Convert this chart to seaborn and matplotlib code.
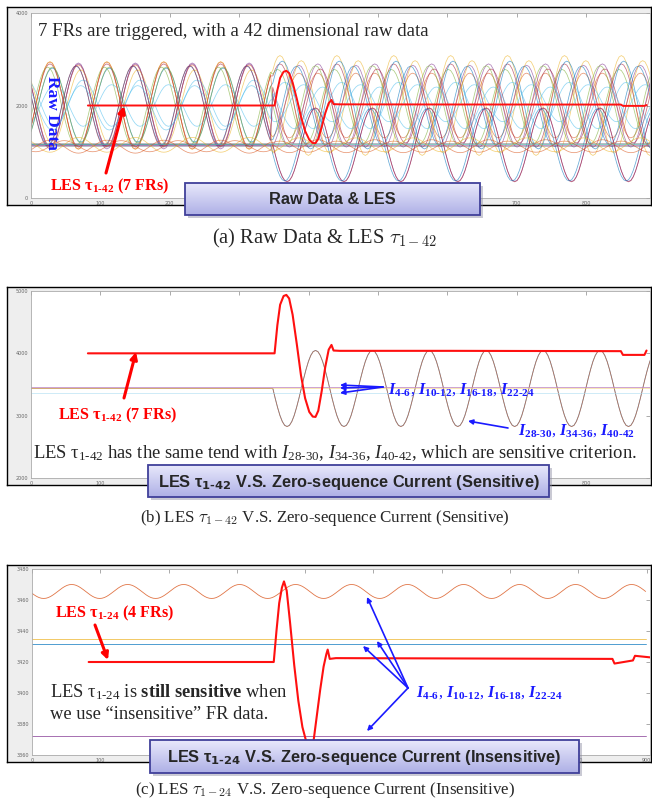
import numpy as np
import pandas as pd
import matplotlib
matplotlib.use("Agg")
import matplotlib.pyplot as plt
from matplotlib.patches import Rectangle
from matplotlib.colors import LinearSegmentedColormap
import seaborn as sns

sns.set_style("white")
plt.rcParams['font.family'] = ['Liberation Serif', 'DejaVu Serif']
plt.rcParams['mathtext.fontset'] = 'custom'
plt.rcParams['mathtext.rm'] = 'Liberation Serif'
plt.rcParams['mathtext.it'] = 'Liberation Serif:italic'
plt.rcParams['mathtext.bf'] = 'Liberation Serif:bold'
plt.rcParams['mathtext.bfit'] = 'Liberation Serif:bold:italic'

# ---- data ----
PERIOD = 82          # x-units per cycle (trough to trough)
# one cycle of the measured waveform, 24 samples, normalised
CYCLE = [0.0, 0.26, 0.5, 0.71, 0.87, 0.97, 1.0, 0.97, 0.87, 0.71, 0.5, 0.26,
         0.0, -0.26, -0.5, -0.71, -0.87, -0.97, -1.0, -0.97, -0.87, -0.71, -0.5, -0.26]
N_CYCLES = 11
FAULT = 102          # sample where the fault starts

X_TICKS = [0, 100, 200, 300, 400, 500, 600, 700, 800, 900]
A_Y_TICKS = [0, 2000, 4000]
B_Y_TICKS = [2000, 3000, 4000, 5000]
C_Y_TICKS = [3360, 3380, 3400, 3420, 3440, 3460, 3480]

# (a) raw data channels
RAW_LEVEL = [2000, 2000, 1980, 2010, 2000, 1990, 2000, 2000, 1970, 2050,
             2000, 2000, 2010, 1990, 1950, 1150, 1150, 1150,
             1190, 1170, 1160, 1150, 1130, 1110, 1150, 1120]
RAW_AMP_PRE = [950, 900, 850, 800, 450, 930, 880, 850, 800, 500,
               940, 900, 820, 870, 480, 0, 0, 0,
               0, 0, 0, 0, 0, 140, 160, 120]
RAW_AMP_POST = [1080, 900, 800, 950, 500, 880, 700, 850, 1000, 400,
                700, 900, 850, 800, 450, 790, 800, 780,
                0, 0, 0, 0, 0, 120, 150, 140]
RAW_SHIFT_PRE = [2, 2, 1, 3, 4, 14, 14, 13, 15, 16,
                 2, 14, 3, 13, 15, 18, 18, 17,
                 0, 0, 0, 0, 0, 2, 14, 8]
RAW_SHIFT_POST = [3, 3, 2, 4, 5, 11, 11, 10, 12, 13,
                  19, 19, 18, 20, 21, 18, 18, 17,
                  0, 0, 0, 0, 0, 3, 11, 19]

# (b) zero-sequence currents
ZS_B_LEVEL = [3437, 3435, 3465, 3458, 3445, 3370]
ZS_B_AMP = [610, 610, 0, 0, 0, 0]
ZS_B_SHIFT = [18, 18, 0, 0, 0, 0]

# (c) insensitive zero-sequence currents
ZS_C_LEVEL = [3465.5, 3435, 3431.5, 3372]
ZS_C_AMP = [4.5, 0, 0, 0]
ZS_C_SHIFT = [11, 0, 0, 0]

# LES curves
LES_A_X = [82, 351, 355, 359, 364, 368, 372, 377, 383, 389, 395, 401, 406, 410,
           414, 419, 424, 429, 433, 436, 445, 600, 850, 853, 884, 887]
LES_A_Y = [2000, 2000, 2330, 2595, 2730, 2750, 2700, 2500, 2150, 1760, 1450, 1260,
           1190, 1185, 1280, 1540, 1830, 2050, 2120, 2030, 2025, 2022, 2020, 1992, 1992, 2010]
LES_B_X = LES_A_X
LES_B_Y = [4000, 4000, 4450, 4780, 4920, 4937, 4880, 4620, 4150, 3650, 3280, 3060,
           2985, 2980, 3080, 3400, 3780, 4060, 4135, 4045, 4040, 4040, 4035, 3975, 3975, 4045]
LES_C_X = [83, 354, 358, 362, 366, 369, 373, 378, 384, 390, 396, 402, 408,
           412, 417, 422, 427, 431, 433, 436, 445, 850, 853, 880, 883, 905]
LES_C_Y = [3420, 3420, 3440, 3458, 3468, 3472, 3466, 3445, 3418, 3395, 3378, 3368, 3364,
           3368, 3385, 3402, 3417, 3425, 3428, 3422, 3422.5, 3422, 3419, 3421, 3424, 3423]

M_BLUE, M_ORANGE, M_YELLOW, M_PURPLE = '#0072BD', '#D95319', '#EDB120', '#7E2F8E'
M_GREEN, M_LBLUE, M_DRED, M_GRAY = '#77AC30', '#4DBEEE', '#A2142F', '#6f6f80'
RAW_COLORS = [M_YELLOW, M_DRED, M_GREEN, M_BLUE, M_LBLUE, M_PURPLE, M_ORANGE, M_BLUE,
              M_YELLOW, M_LBLUE, M_ORANGE, M_PURPLE, M_GREEN, M_DRED, M_LBLUE,
              M_PURPLE, M_DRED, M_BLUE, M_GRAY, M_GREEN, M_LBLUE, M_PURPLE, M_GRAY,
              M_ORANGE, M_YELLOW, M_ORANGE]
ZS_B_COLORS = [M_BLUE, M_ORANGE, '#e090c8', '#b48cc8', '#f2d27a', '#a8dcf2']
ZS_C_COLORS = [M_ORANGE, M_YELLOW, M_BLUE, M_PURPLE]

STEP = PERIOD / len(CYCLE)
n_samples = len(CYCLE) * N_CYCLES
sample_x = np.arange(n_samples) * STEP
before_fault = np.arange(n_samples) < FAULT


def channel(level, amp_pre, amp_post, shift_pre, shift_post):
    w_pre = np.roll(np.tile(CYCLE, N_CYCLES), shift_pre)
    w_post = np.roll(np.tile(CYCLE, N_CYCLES), shift_post)
    return level + np.where(before_fault, amp_pre * w_pre, amp_post * w_post)


def long_frame(levels, pre, post, shift_pre, shift_post):
    parts = []
    for i, vals in enumerate(zip(levels, pre, post, shift_pre, shift_post)):
        parts.append(pd.DataFrame({'x': sample_x, 'value': channel(*vals),
                                   'channel': f'ch{i:02d}'}))
    return pd.concat(parts, ignore_index=True)


df_a = long_frame(RAW_LEVEL, RAW_AMP_PRE, RAW_AMP_POST, RAW_SHIFT_PRE, RAW_SHIFT_POST)
df_b = long_frame(ZS_B_LEVEL, [0] * len(ZS_B_AMP), ZS_B_AMP, ZS_B_SHIFT, ZS_B_SHIFT)
df_c = long_frame(ZS_C_LEVEL, ZS_C_AMP, ZS_C_AMP, ZS_C_SHIFT, ZS_C_SHIFT)

# ---- layout ----
W, H = 652, 808
fig = plt.figure(figsize=(W / 100, H / 100), dpi=100)


def rect(x0, y0, x1, y1):
    return [x0 / W, 1 - y1 / H, (x1 - x0) / W, (y1 - y0) / H]


def panel(frame, inner, ylim, yticks, xmax, hidden):
    f = fig.add_axes(rect(*frame))
    f.set_facecolor('#eeeeee')
    f.set_xticks([])
    f.set_yticks([])
    for s in f.spines.values():
        s.set_color('black')
        s.set_linewidth(1.0)
    ax = fig.add_axes(rect(*inner))
    ax.set_facecolor('white')
    ax.set_xlim(0, xmax)
    ax.set_ylim(*ylim)
    ticks = [t for t in X_TICKS if t <= xmax]
    ax.set_xticks(ticks)
    # labels that sit under the title box are hidden by it anyway
    ax.set_xticklabels(['' if t in hidden else str(t) for t in ticks])
    ax.set_yticks(yticks)
    ax.tick_params(direction='in', top=True, right=True, length=3, width=0.5,
                   color='#888888', labelsize=3.5, labelcolor='#666666', pad=2)
    for lab in ax.get_xticklabels() + ax.get_yticklabels():
        lab.set_family('DejaVu Sans')
    for s in ax.spines.values():
        s.set_color('#aaaaaa')
        s.set_linewidth(0.6)
    return ax


ax_a = panel((7, 7, 651, 205), (31, 13, 650, 198), (0, 4000), A_Y_TICKS, 892,
             [300, 400, 500, 600])
ax_b = panel((7, 287, 651, 485), (31, 291, 650, 478), (2000, 5000), B_Y_TICKS, 892,
             [200, 300, 400, 500, 600, 700])
ax_c = panel((7, 565, 651, 762), (32, 569, 650, 755), (3360, 3480), C_Y_TICKS, 905,
             [200, 300, 400, 500, 600, 700])

sns.lineplot(data=df_a, x='x', y='value', hue='channel', palette=RAW_COLORS,
             lw=0.55, alpha=0.6, legend=False, estimator=None, ax=ax_a)
sns.lineplot(x=LES_A_X, y=LES_A_Y, color='#ff1010', lw=1.4, ax=ax_a)

sns.lineplot(data=df_b, x='x', y='value', hue='channel', palette=ZS_B_COLORS,
             lw=0.6, alpha=0.65, legend=False, estimator=None, ax=ax_b)
sns.lineplot(x=LES_B_X, y=LES_B_Y, color='#ff1010', lw=1.5, ax=ax_b)

sns.lineplot(data=df_c, x='x', y='value', hue='channel', palette=ZS_C_COLORS,
             lw=0.6, alpha=0.8, legend=False, estimator=None, ax=ax_c)
sns.lineplot(x=LES_C_X, y=LES_C_Y, color='#ff1010', lw=1.5, ax=ax_c)

for ax in (ax_a, ax_b, ax_c):
    ax.set_xlabel('')
    ax.set_ylabel('')

# overlay in pixel coordinates for annotations
ov = fig.add_axes([0, 0, 1, 1], zorder=10)
ov.set_xlim(0, W)
ov.set_ylim(H, 0)
ov.axis('off')
ov.patch.set_alpha(0)

RED = '#ff0000'
BLUE = '#1a1aff'
box_cmap = LinearSegmentedColormap.from_list('box', ['#e8e8fb', '#aeb0e6'])


def label_box(x0, y0, x1, y1, text):
    ov.add_patch(Rectangle((x0 + 3, y0 + 3), x1 - x0, y1 - y0, color='#8a8aa0',
                           alpha=0.45, lw=0, zorder=1))
    grad = np.linspace(0, 1, 64).reshape(-1, 1)
    ov.imshow(grad, extent=(x0, x1, y1, y0), cmap=box_cmap, aspect='auto', zorder=2)
    ov.add_patch(Rectangle((x0, y0), x1 - x0, y1 - y0, fill=False, ec='#40409a',
                           lw=1.3, zorder=3))
    ov.text((x0 + x1) / 2, (y0 + y1) / 2 + 1, text, ha='center', va='center',
            family=['Liberation Sans', 'DejaVu Sans'], weight='bold', size=11.8,
            math_fontfamily='dejavusans', zorder=4)


def arrow(x0, y0, x1, y1, color, lw, ms):
    ov.annotate('', xy=(x1, y1), xytext=(x0, y0),
                arrowprops=dict(arrowstyle='-|>', color=color, lw=lw, mutation_scale=ms,
                                shrinkA=0, shrinkB=0))


# (a)
ov.text(38, 36, '7 FRs are triggered, with a 42 dimensional raw data', size=13.6,
        va='baseline')
ov.text(52, 113, 'Raw Data', color=BLUE, weight='bold', size=12.5, rotation=-90,
        ha='center', va='center')
ov.text(50, 190, r'LES τ$_{\mathbf{1‐42}}$ (7 FRs)', color=RED, weight='bold', size=11.6,
        va='baseline')
arrow(106, 173, 124, 106, RED, 2.2, 10)
label_box(185, 183, 480, 215, 'Raw Data & LES')
ov.text(325, 243, r'(a) Raw Data & LES $\tau_{1-42}$', ha='center', va='baseline',
        size=14.8, math_fontfamily='cm')

# (b)
ov.text(58, 419, r'LES τ$_{\mathbf{1‐42}}$ (7 FRs)', color=RED, weight='bold', size=11.6,
        va='baseline')
arrow(124, 398, 136, 352, RED, 2.2, 10)
ov.text(388, 394, r'$\mathbfit{I}_{\mathbf{4‐6}}$, $\mathbfit{I}_{\mathbf{10‐12}}$, '
        r'$\mathbfit{I}_{\mathbf{16‐18}}$, $\mathbfit{I}_{\mathbf{22‐24}}$',
        color=BLUE, size=11.6, va='baseline')
for hy in (385, 388, 393):
    arrow(383, 387, 340, hy, BLUE, 1.2, 7)
ov.text(518, 435, r'$\mathbfit{I}_{\mathbf{28‐30}}$, $\mathbfit{I}_{\mathbf{34‐36}}$, '
        r'$\mathbfit{I}_{\mathbf{40‐42}}$', color=BLUE, size=11.6, va='baseline')
arrow(508, 428, 468, 421, BLUE, 1.2, 7)
ov.text(33, 458, r'LES τ$_{1‐42}$ has the same tend with $\mathit{I}_{28‐30}$, '
        r'$\mathit{I}_{34‐36}$, $\mathit{I}_{40‐42}$, which are sensitive criterion.',
        size=13.4, va='baseline')
label_box(148, 465, 549, 497, r'LES τ$_{\mathbf{1‐42}}$ V.S. Zero-sequence Current (Sensitive)')
ov.text(325, 522, r'(b) LES $\tau_{1-42}$ V.S. Zero-sequence Current (Sensitive)',
        ha='center', va='baseline', size=12.2, math_fontfamily='cm')

# (c)
ov.text(55, 617, r'LES τ$_{\mathbf{1‐24}}$ (4 FRs)', color=RED, weight='bold', size=11.6,
        va='baseline')
arrow(95, 625, 108, 660, RED, 2.2, 10)
ov.text(50, 697, r'LES τ$_{1‐24}$ is $\mathbf{still\ sensitive}$ when', size=13.3,
        va='baseline')
ov.text(50, 719, 'we use “insensitive” FR data.', size=13.3, va='baseline')
ov.text(416, 697, r'$\mathbfit{I}_{\mathbf{4‐6}}$, $\mathbfit{I}_{\mathbf{10‐12}}$, '
        r'$\mathbfit{I}_{\mathbf{16‐18}}$, $\mathbfit{I}_{\mathbf{22‐24}}$',
        color=BLUE, size=11.6, va='baseline')
for hx, hy in ((367, 597), (377, 641), (363, 646), (367, 731)):
    arrow(408, 688, hx, hy, BLUE, 1.2, 7)
label_box(150, 740, 579, 773, r'LES τ$_{\mathbf{1‐24}}$ V.S. Zero-sequence Current (Insensitive)')
ov.text(325, 794, r'(c) LES $\tau_{1-24}$ V.S. Zero-sequence Current (Insensitive)',
        ha='center', va='baseline', size=12.2, math_fontfamily='cm')

fig.savefig('out.png', dpi=100)
